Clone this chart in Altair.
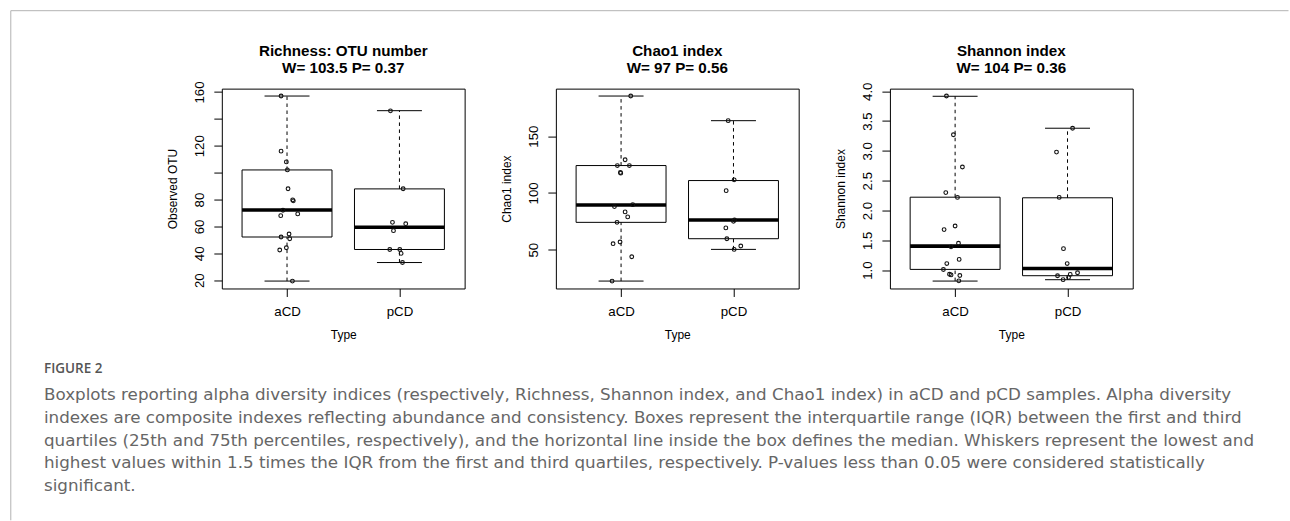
import altair as alt
import pandas as pd

FONT = "Liberation Sans"
GROUPS = ["aCD", "pCD"]

# ---------------- data ----------------
# Panel 1: Richness (Observed OTU)
rich_a = [157, 116, 108, 102, 88, 79.7, 79, 72, 69.3, 68, 54.3, 52.1, 50.8, 44.1, 42.4, 19.3]
rich_a_jit = [-0.053, -0.053, -0.006, 0.003, 0.009, 0.05, 0.056, -0.036, 0.095, -0.056, 0.018, -0.053, 0.024, -0.006, -0.065, 0.048]
rich_p = [146, 88, 63, 62, 56.8, 42.8, 42.8, 39.9, 33.1]
rich_p_jit = [-0.08, 0.033, -0.062, 0.056, -0.053, -0.086, 0.003, 0.015, 0.027]
rich_a_box = [19.3, 52.1, 72.2, 102, 157]       # lower whisker, Q1, median, Q3, upper whisker
rich_p_box = [33.1, 42.8, 59.3, 87.9, 146.1]
rich_ticks = [20, 40, 60, 80, 100, 120, 140, 160]
rich_labeled = [20, 40, 60, 80, 120, 160]

# Panel 2: Chao1
chao_a = [185.3, 129.2, 124.1, 124.1, 118, 117.4, 88, 89.7, 83.3, 78.9, 74.1, 56.8, 55.3, 43.8, 22.4]
chao_a_jit = [0.086, 0.036, -0.033, 0.074, -0.006, -0.003, -0.059, 0.104, 0.036, 0.059, -0.036, -0.009, -0.071, 0.095, -0.08]
chao_p = [163.6, 111.5, 102, 76.2, 75, 69.2, 59.7, 53.3, 50.3]
chao_p_jit = [-0.047, 0.006, -0.065, 0.009, 0.0, -0.068, -0.059, 0.065, 0.006]
chao_a_box = [22.4, 74.1, 89.4, 124.1, 185.3]
chao_p_box = [50.3, 59.7, 76.2, 110.9, 163.6]
chao_ticks = [50, 100, 150]
chao_labeled = [50, 100, 150]

# Panel 3: Shannon
shan_a = [3.92, 3.27, 2.73, 2.30, 2.22, 1.74, 1.68, 1.45, 1.39, 1.18, 1.11, 1.01, 0.93, 0.92, 0.91, 0.82]
shan_a_jit = [-0.077, -0.015, 0.065, -0.083, 0.021, 0.0, -0.098, 0.03, -0.036, 0.036, -0.074, -0.104, -0.05, -0.036, 0.042, 0.033]
shan_p = [3.38, 2.98, 2.22, 1.36, 1.11, 0.956, 0.928, 0.906, 0.878, 0.84]
shan_p_jit = [0.045, -0.098, -0.074, -0.036, -0.003, 0.089, 0.024, -0.089, 0.009, -0.039]
shan_a_box = [0.816, 1.012, 1.402, 2.223, 3.916]
shan_p_box = [0.839, 0.906, 1.028, 2.213, 3.38]
shan_ticks = [1.0, 1.5, 2.0, 2.5, 3.0, 3.5, 4.0]
shan_labeled = [1.0, 1.5, 2.0, 2.5, 3.0, 3.5, 4.0]

titles = [
    ["Richness: OTU number", "W= 103.5 P= 0.37"],
    ["Chao1 index", "W= 97 P= 0.56"],
    ["Shannon index", "W= 104 P= 0.36"],
]
ytitles = ["Observed OTU", "Chao1 index", "Shannon index"]

fig_label = "FIGURE 2"
caption_lines = [
    "Boxplots reporting alpha diversity indices (respectively, Richness, Shannon index, and Chao1 index) in aCD and pCD samples. Alpha diversity",
    "indexes are composite indexes reflecting abundance and consistency. Boxes represent the interquartile range (IQR) between the first and third",
    "quartiles (25th and 75th percentiles, respectively), and the horizontal line inside the box defines the median. Whiskers represent the lowest and",
    "highest values within 1.5 times the IQR from the first and third quartiles, respectively. P-values less than 0.05 were considered statistically",
    "significant.",
]

W, H = 243, 200
one = pd.DataFrame({"k": [0]})


def make_panel(title, ytitle, a_vals, a_jit, p_vals, p_jit, a_box, p_box, yticks, labeled, yfmt, decor=None):
    pts = pd.DataFrame({
        "x": [1 + j for j in a_jit] + [2 + j for j in p_jit],
        "v": a_vals + p_vals,
    })
    box = pd.DataFrame({
        "c": [1, 2],
        "lo": [a_box[0], p_box[0]],
        "q1": [a_box[1], p_box[1]],
        "med": [a_box[2], p_box[2]],
        "q3": [a_box[3], p_box[3]],
        "hi": [a_box[4], p_box[4]],
    })
    box["xl"] = box["c"] - 0.4
    box["xr"] = box["c"] + 0.4
    box["cl"] = box["c"] - 0.2
    box["cr"] = box["c"] + 0.2

    allv = a_vals + p_vals + a_box + p_box
    lo, hi = min(allv), max(allv)
    pad = (hi - lo) * 0.04
    xs = alt.Scale(domain=[0.42, 2.58], nice=False, zero=False)
    ys = alt.Scale(domain=[lo - pad, hi + pad], nice=False, zero=False)

    hidden = [t for t in yticks if t not in labeled]
    if hidden:
        cond = " || ".join(f"datum.value == {h}" for h in hidden)
        lab_expr = f"({cond}) ? '' : datum.label"
    else:
        lab_expr = "datum.label"

    xax = alt.Axis(values=[1, 2], labelExpr="datum.value == 1 ? 'aCD' : 'pCD'",
                   title="Type", tickSize=8, labelPadding=8, titlePadding=12,
                   labelBaseline="top", labelAlign="center", labelAngle=0)
    yax = alt.Axis(values=yticks, format=yfmt, labelExpr=lab_expr, title=ytitle, tickSize=8,
                   labelAngle=270, labelAlign="center", labelBaseline="bottom",
                   labelPadding=7, titlePadding=13)

    def X(f):
        return alt.X(f, type="quantitative", scale=xs, axis=xax)

    def Y(f):
        return alt.Y(f, type="quantitative", scale=ys, axis=yax)

    base = alt.Chart(box)
    whisk_up = base.mark_rule(color="black", strokeWidth=1, strokeDash=[3.5, 3.5]).encode(
        x=X("c"), y=Y("q3"), y2="hi")
    whisk_lo = base.mark_rule(color="black", strokeWidth=1, strokeDash=[3.5, 3.5]).encode(
        x=X("c"), y=Y("lo"), y2="q1")
    cap_up = base.mark_rule(color="black", strokeWidth=1).encode(x=X("cl"), x2="cr", y=Y("hi"))
    cap_lo = base.mark_rule(color="black", strokeWidth=1).encode(x=X("cl"), x2="cr", y=Y("lo"))
    rect = base.mark_rect(fillOpacity=0, stroke="black", strokeWidth=1).encode(
        x=X("xl"), x2="xr", y=Y("q1"), y2="q3")
    med = base.mark_rule(color="black", strokeWidth=3.6, strokeCap="butt").encode(
        x=X("xl"), x2="xr", y=Y("med"))
    points = alt.Chart(pts).mark_point(shape="circle", filled=False, size=14,
                                       stroke="#111111", strokeWidth=1.1, opacity=1).encode(
        x=X("x"), y=Y("v"))
    ttl = alt.Chart(one).mark_text(align="center", baseline="alphabetic", font=FONT,
                                   fontSize=15.2, fontWeight="bold", color="black",
                                   lineHeight=16.7).encode(
        x=alt.value(W / 2), y=alt.value(-32.6), text=alt.value(title))

    layers = [whisk_up, whisk_lo, cap_up, cap_lo, rect, med, points, ttl]
    if decor:
        layers += decor
    return alt.layer(*layers).properties(width=W, height=H)


# decorative frame and caption (drawn relative to the first panel)
frame_top = alt.Chart(one).mark_rule(color="#b3b3b3", strokeWidth=1).encode(
    x=alt.value(-211.2), x2=alt.value(1067.5), y=alt.value(-78), y2=alt.value(-78))
frame_left = alt.Chart(one).mark_rule(color="#b3b3b3", strokeWidth=1).encode(
    x=alt.value(-211.2), x2=alt.value(-211.2), y=alt.value(-78), y2=alt.value(432))
fig_text = alt.Chart(one).mark_text(align="left", baseline="alphabetic", font="Open Sans",
                                    fontSize=13.5, fontWeight=600, color="#555555").encode(
    x=alt.value(-178), y=alt.value(284.7), text=alt.value(fig_label))
cap_text = alt.Chart(one).mark_text(align="left", baseline="alphabetic", font="DejaVu Sans",
                                    fontSize=16.75, color="#666666", lineHeight=22.7).encode(
    x=alt.value(-178), y=alt.value(312), text=alt.value(caption_lines))

p1 = make_panel(titles[0], ytitles[0], rich_a, rich_a_jit, rich_p, rich_p_jit,
                rich_a_box, rich_p_box, rich_ticks, rich_labeled, "d",
                decor=[frame_top, frame_left, fig_text, cap_text])
p2 = make_panel(titles[1], ytitles[1], chao_a, chao_a_jit, chao_p, chao_p_jit,
                chao_a_box, chao_p_box, chao_ticks, chao_labeled, "d")
p3 = make_panel(titles[2], ytitles[2], shan_a, shan_a_jit, shan_p, shan_p_jit,
                shan_a_box, shan_p_box, shan_ticks, shan_labeled, ".1f")

chart = alt.hconcat(p1, p2, p3, spacing=91.3, bounds="flush").properties(
    padding={"left": 9, "top": 9.5, "right": 0, "bottom": 0},
    background="white",
).configure_view(
    stroke="black", strokeWidth=1
).configure_axis(
    grid=False, domain=False, tickColor="black", tickWidth=1,
    labelFont=FONT, labelFontSize=13.3, labelColor="black",
    titleFont=FONT, titleFontSize=12, titleFontWeight="normal", titleColor="black",
)

chart.save("out.html", embed_options={"renderer": "svg", "actions": False})
